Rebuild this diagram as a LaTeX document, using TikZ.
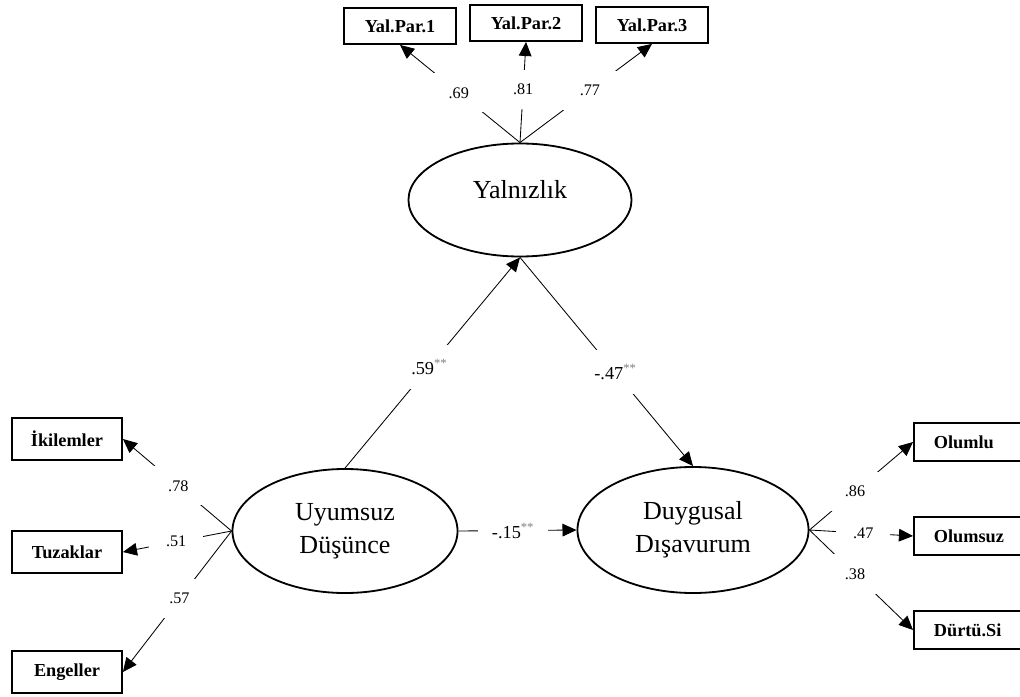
\documentclass[tikz,border=0pt]{standalone}
\usepackage{fontspec}
\setmainfont{Liberation Serif}
\usepackage{xcolor}
\usetikzlibrary{arrows.meta, shapes.geometric}
\newcommand{\sig}{\raisebox{5pt}{\textcolor{gray}{\fontsize{9}{9}\selectfont**}}}

\begin{document}
\begin{tikzpicture}[x=0.025cm, y=-0.025cm,
    >={Triangle[length=10pt, width=9pt]},
    latent/.style={ellipse, draw, line width=1.3pt, inner sep=0pt, align=center,
      font=\fontsize{18.5}{23.5}\selectfont},
    obs/.style={rectangle, draw, line width=1.3pt, inner sep=0pt,
      minimum width=2.8cm, minimum height=0.95cm,
      font=\fontsize{13}{15}\selectfont\bfseries},
    cut/.style={obs, anchor=west, minimum width=4cm, text width=3cm,
      align=left, inner xsep=0.5cm},
    link/.style={line width=0.6pt},
    ldg/.style={fill=white, inner xsep=12pt, inner ysep=10pt,
      font=\fontsize{11.5}{13}\selectfont},
    coef/.style={fill=white, inner xsep=10pt, inner ysep=10pt,
      font=\fontsize{13}{15}\selectfont}]

  \useasboundingbox (0,0) rectangle (1020,697);
  \clip (0,0) rectangle (1020,697);

  % latent variables
  \node[latent, minimum width=5.575cm, minimum height=2.825cm, text depth=15pt]
    (yaln) at (520,200) {Yalnızlık};
  \node[latent, minimum width=5.625cm, minimum height=3.1cm]
    (uyum) at (345,531) {Uyumsuz\\Düşünce};
  \node[latent, minimum width=5.775cm, minimum height=3.15cm]
    (duyg) at (693,530) {Duygusal\\Dışavurum};

  % indicators of Yalnizlik
  \node[obs, minimum height=0.9cm] (yp1) at (400,26) {Yal.Par.1};
  \node[obs, minimum height=0.9cm] (yp2) at (526,23) {Yal.Par.2};
  \node[obs, minimum height=0.9cm] (yp3) at (652,25) {Yal.Par.3};

  % indicators of Uyumsuz Dusunce
  \node[obs, minimum width=2.75cm, minimum height=1.05cm] (ikil) at (67,439) {İkilemler};
  \node[obs, minimum width=2.75cm, minimum height=1.03cm] (tuza) at (67,552) {Tuzaklar};
  \node[obs, minimum width=2.75cm, minimum height=1.03cm] (enge) at (67,672) {Engeller};

  % indicators of Duygusal Disavurum (cut at the right edge)
  \node[cut] (olml) at (913,442) {Olumlu};
  \node[cut] (olms) at (913,536) {Olumsuz};
  \node[cut] (durt) at (913,630) {Dürtü.Si};

  % loadings
  \draw[link, ->] (yaln.north) -- node[ldg, pos=0.51] {.69} (yp1.south);
  \draw[link, ->] (yaln.north) -- node[ldg, pos=0.53] {.81} (yp2.south);
  \draw[link, ->] (yaln.north) -- node[ldg, pos=0.53] {.77} (yp3.south);

  \draw[link, ->] (uyum.west) -- node[ldg, pos=0.49] {.78} (ikil.east);
  \draw[link, ->] (uyum.west) -- node[ldg, pos=0.51] {.51} (tuza.east);
  \draw[link, ->] (uyum.west) -- node[ldg, pos=0.48] {.57} (enge.east);

  \draw[link, ->] (duyg.east) -- node[ldg, pos=0.44] {.86} (olml.west);
  \draw[link, ->] (duyg.east) -- node[ldg, pos=0.52] {.47} (olms.west);
  \draw[link, ->] (duyg.east) -- node[ldg, pos=0.44] {.38} (durt.west);

  % structural paths
  \draw[link, ->] (uyum.north) -- node[coef, pos=0.48] {.59\sig} (yaln.south);
  \draw[link, ->] (yaln.south) -- node[coef, pos=0.55] {-.47\sig} (duyg.north);
  \draw[link, ->] (uyum.east) -- node[coef, pos=0.46] {-.15\sig} (duyg.west);
\end{tikzpicture}
\end{document}
